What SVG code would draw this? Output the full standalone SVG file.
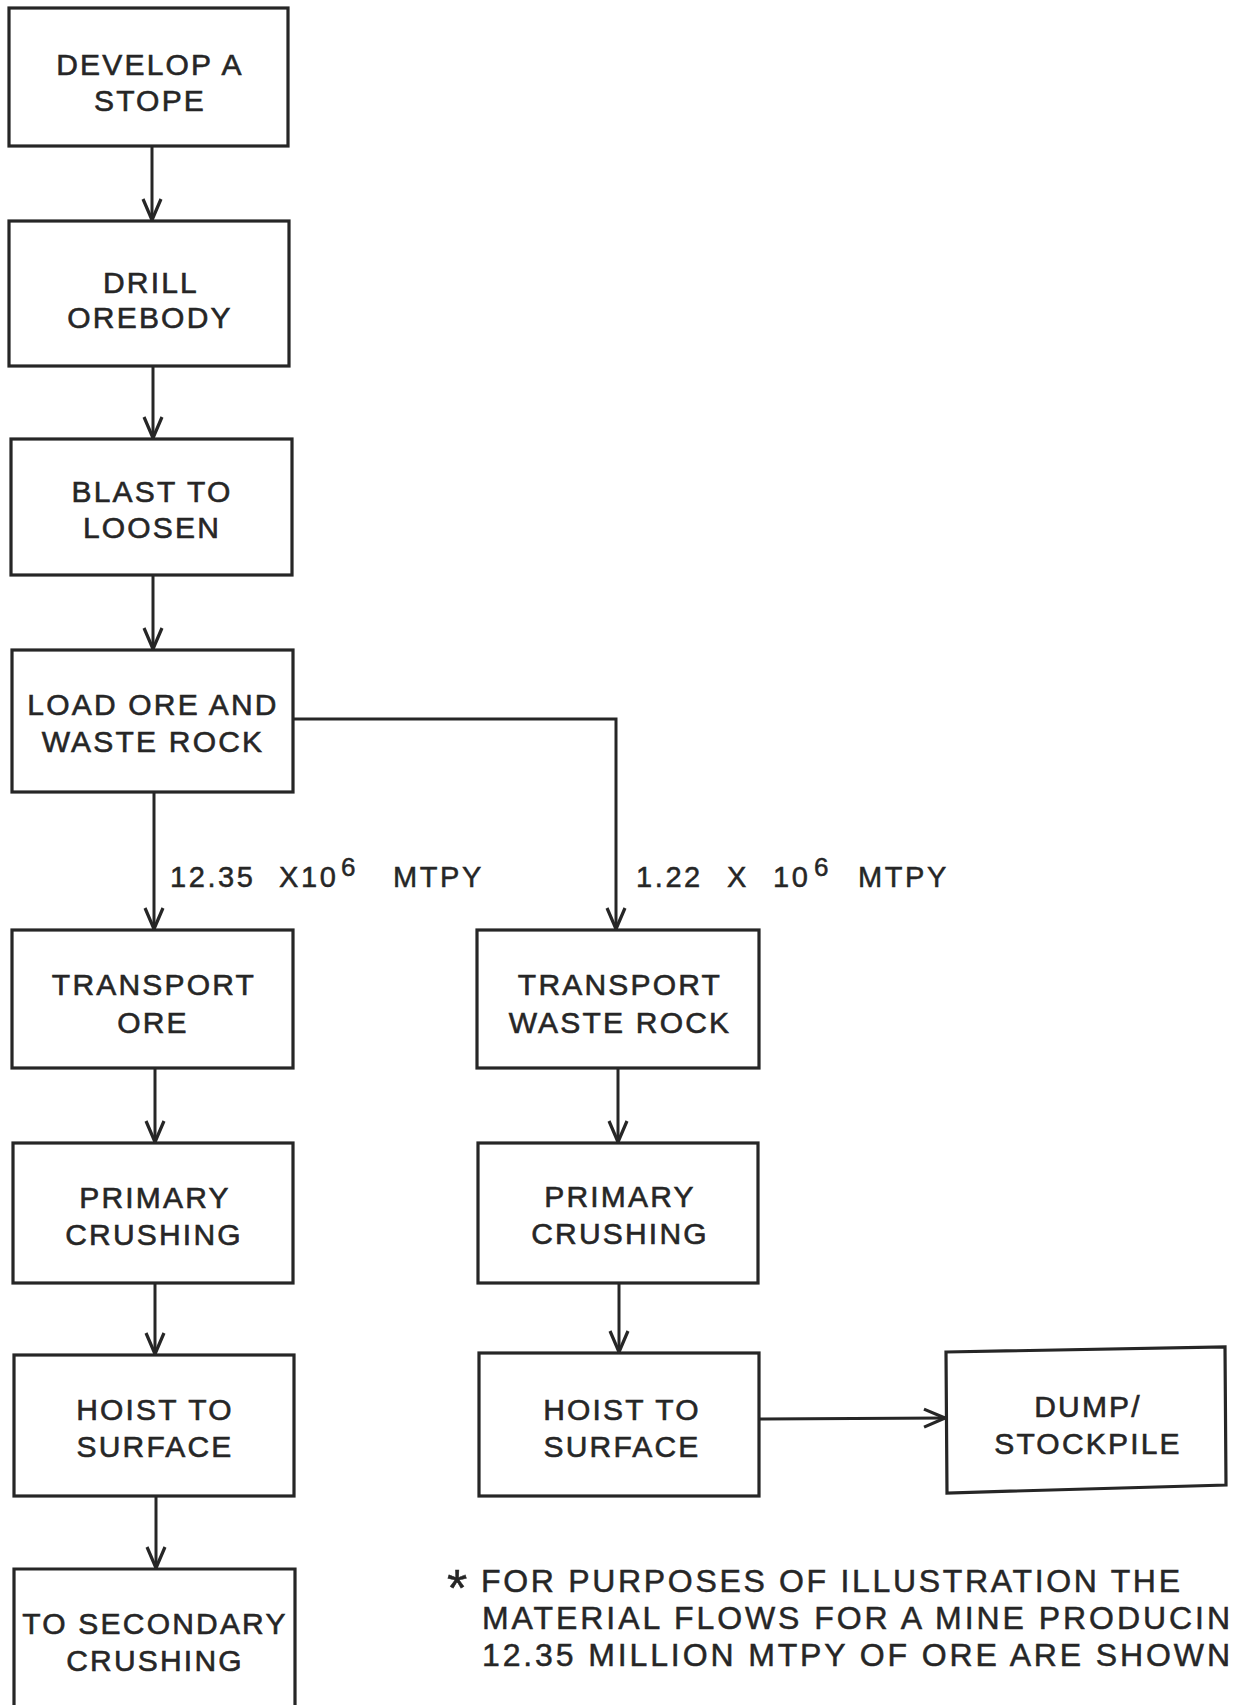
<svg xmlns="http://www.w3.org/2000/svg" width="1233" height="1705" viewBox="0 0 1233 1705">
<style>
.box{fill:#fff;stroke:#262626;stroke-width:3.2}
.t{font-family:"Liberation Sans",Arial,sans-serif;font-size:30px;fill:#262626;stroke:#262626;stroke-width:0.6;text-anchor:middle;letter-spacing:2.2px}
.lbl{font-family:"Liberation Sans",Arial,sans-serif;font-size:29px;fill:#262626;stroke:#262626;stroke-width:0.5;letter-spacing:2.6px}
.note{font-family:"Liberation Sans",Arial,sans-serif;font-size:32px;fill:#262626;stroke:#262626;stroke-width:0.5}
.c{fill:none;stroke:#262626;stroke-width:3}
</style>
<defs>
<marker id="arr" viewBox="-24 -12 27 24" refX="0" refY="0" markerWidth="27" markerHeight="24" markerUnits="userSpaceOnUse" orient="auto" overflow="visible">
<path d="M-21,-9 L0,0 L-21,9" fill="none" stroke="#262626" stroke-width="3.2" stroke-linejoin="round"/>
</marker>
</defs>
<rect width="1233" height="1705" fill="#fff"/>

<g id="connectors">
<line class="c" x1="152" y1="146" x2="152" y2="220" marker-end="url(#arr)"/>
<line class="c" x1="153" y1="366" x2="153" y2="438" marker-end="url(#arr)"/>
<line class="c" x1="153" y1="575" x2="153" y2="649" marker-end="url(#arr)"/>
<line class="c" x1="154" y1="792" x2="154" y2="929" marker-end="url(#arr)"/>
<polyline class="c" points="293,719 616,719 616,929" marker-end="url(#arr)"/>
<line class="c" x1="155" y1="1068" x2="155" y2="1142" marker-end="url(#arr)"/>
<line class="c" x1="155" y1="1283" x2="155" y2="1354" marker-end="url(#arr)"/>
<line class="c" x1="156" y1="1496" x2="156" y2="1568" marker-end="url(#arr)"/>
<line class="c" x1="618" y1="1068" x2="618" y2="1142" marker-end="url(#arr)"/>
<line class="c" x1="619" y1="1283" x2="619" y2="1352" marker-end="url(#arr)"/>
<line class="c" x1="759" y1="1419" x2="945" y2="1418" marker-end="url(#arr)"/>
<text class="lbl" y="887"><tspan x="170">12.35</tspan><tspan x="279">X10</tspan><tspan x="341" y="876" style="font-size:26px">6</tspan><tspan x="393" y="887">MTPY</tspan></text>
<text class="lbl" y="887"><tspan x="636">1.22</tspan><tspan x="727">X</tspan><tspan x="773">10</tspan><tspan x="814" y="876" style="font-size:26px">6</tspan><tspan x="858" y="887">MTPY</tspan></text>
</g>

<g id="n1"><rect class="box" x="9" y="8" width="279" height="138"/><text class="t" x="150" y="75">DEVELOP A</text><text class="t" x="150" y="111">STOPE</text></g>
<g id="n2"><rect class="box" x="9" y="221" width="280" height="145"/><text class="t" x="151" y="293">DRILL</text><text class="t" x="150" y="328">OREBODY</text></g>
<g id="n3"><rect class="box" x="11" y="439" width="281" height="136"/><text class="t" x="152" y="502">BLAST TO</text><text class="t" x="152" y="538">LOOSEN</text></g>
<g id="n4"><rect class="box" x="12" y="650" width="281" height="142"/><text class="t" x="153" y="715">LOAD ORE AND</text><text class="t" x="153" y="752">WASTE ROCK</text></g>
<g id="n5"><rect class="box" x="12" y="930" width="281" height="138"/><text class="t" x="154" y="995">TRANSPORT</text><text class="t" x="153" y="1033">ORE</text></g>
<g id="n6"><rect class="box" x="477" y="930" width="282" height="138"/><text class="t" x="620" y="995">TRANSPORT</text><text class="t" x="620" y="1033">WASTE ROCK</text></g>
<g id="n7"><rect class="box" x="13" y="1143" width="280" height="140"/><text class="t" x="155" y="1208">PRIMARY</text><text class="t" x="154" y="1245">CRUSHING</text></g>
<g id="n8"><rect class="box" x="478" y="1143" width="280" height="140"/><text class="t" x="620" y="1207">PRIMARY</text><text class="t" x="620" y="1244">CRUSHING</text></g>
<g id="n9"><rect class="box" x="14" y="1355" width="280" height="141"/><text class="t" x="155" y="1420">HOIST TO</text><text class="t" x="155" y="1457">SURFACE</text></g>
<g id="n10"><rect class="box" x="479" y="1353" width="280" height="143"/><text class="t" x="622" y="1420">HOIST TO</text><text class="t" x="622" y="1457">SURFACE</text></g>
<g id="n11"><polygon class="box" points="946,1352 1225,1347 1226,1485 947,1493"/><text class="t" x="1088" y="1417">DUMP/</text><text class="t" x="1088" y="1454">STOCKPILE</text></g>
<g id="n12"><path class="box" d="M14,1705 L14,1569 L295,1569 L295,1705"/><text class="t" x="155" y="1634">TO SECONDARY</text><text class="t" x="155" y="1671">CRUSHING</text></g>

<g id="note">
<text class="note" x="447" y="1606" style="font-size:52px">*</text>
<text class="note" x="481" y="1592" textLength="699" lengthAdjust="spacing">FOR PURPOSES OF ILLUSTRATION THE</text>
<text class="note" x="482" y="1629" textLength="748" lengthAdjust="spacing">MATERIAL FLOWS FOR A MINE PRODUCIN</text>
<text class="note" x="482" y="1666" textLength="748" lengthAdjust="spacing">12.35 MILLION MTPY OF ORE ARE SHOWN</text>
</g>
</svg>
